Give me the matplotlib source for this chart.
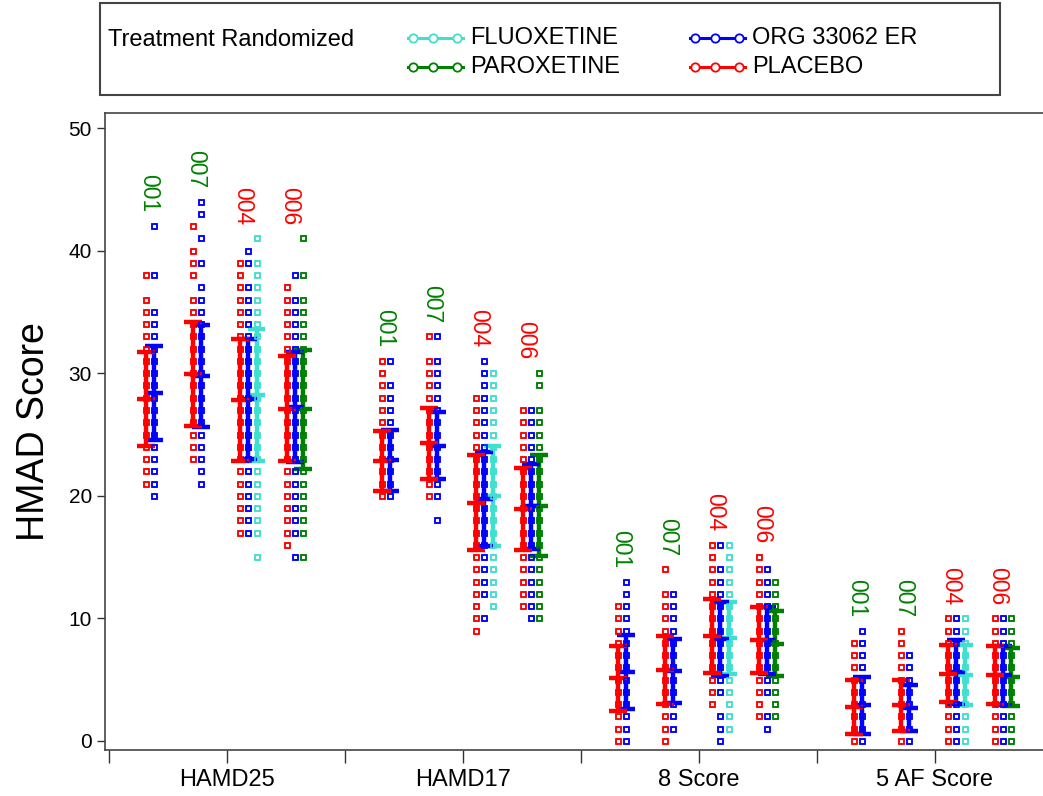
import matplotlib
matplotlib.use("Agg")
import matplotlib.pyplot as plt
from matplotlib.lines import Line2D
from matplotlib.patches import Rectangle

plt.rcParams['font.family'] = ['Liberation Sans', 'DejaVu Sans']

# ---- data ----
scores = ["HAMD25", "HAMD17", "8 Score", "5 AF Score"]
centers = ["001", "007", "004", "006"]
center_colors = {"001": "green", "007": "green", "004": "red", "006": "red"}
treatments = ["FLUOXETINE", "PAROXETINE", "ORG 33062 ER", "PLACEBO"]
colors = {"FLUOXETINE": "#40E0D0", "PAROXETINE": "#008000",
          "ORG 33062 ER": "#0000FF", "PLACEBO": "#FF0000"}

# individual scores, keyed by (centre, treatment)
hamd25_points = {
    ("001", "PLACEBO"): [21, 22, 23, 24, 25, 26, 27, 28, 29, 30, 31, 32, 33, 34, 35, 36, 38],
    ("001", "ORG 33062 ER"): [20, 21, 22, 23, 24, 25, 26, 27, 28, 29, 30, 31, 32, 33, 34, 35, 38, 42],
    ("007", "PLACEBO"): [23, 24, 25, 26, 27, 28, 29, 30, 31, 32, 33, 34, 35, 36, 38, 39, 40, 42],
    ("007", "ORG 33062 ER"): [21, 22, 23, 24, 25, 26, 27, 28, 29, 30, 31, 32, 33, 34, 35, 36, 37, 39, 41, 43, 44],
    ("004", "PLACEBO"): [17, 18, 19, 20, 21, 22, 23, 24, 25, 26, 27, 28, 29, 30, 31, 32, 33, 34, 35, 36, 37, 38, 39],
    ("004", "ORG 33062 ER"): [17, 18, 19, 20, 21, 22, 23, 24, 25, 26, 27, 28, 29, 30, 31, 32, 33, 34, 35, 36, 37, 39, 40],
    ("004", "FLUOXETINE"): [15, 17, 18, 19, 20, 21, 22, 23, 24, 25, 26, 27, 28, 29, 30, 31, 32, 33, 34, 35, 36, 37, 38, 39, 41],
    ("006", "PLACEBO"): [16, 17, 18, 19, 20, 21, 22, 23, 24, 25, 26, 27, 28, 29, 30, 31, 32, 33, 34, 35, 36, 37],
    ("006", "ORG 33062 ER"): [15, 17, 18, 19, 20, 21, 22, 23, 24, 25, 26, 27, 28, 29, 30, 31, 32, 33, 34, 35, 36, 38],
    ("006", "PAROXETINE"): [15, 17, 18, 19, 20, 21, 22, 23, 24, 25, 26, 27, 28, 29, 30, 31, 32, 33, 34, 35, 36, 38, 41],
}
hamd17_points = {
    ("001", "PLACEBO"): [20, 21, 22, 23, 24, 25, 26, 27, 28, 29, 30, 31],
    ("001", "ORG 33062 ER"): [20, 21, 22, 23, 24, 25, 26, 27, 28, 29, 31],
    ("007", "PLACEBO"): [20, 21, 22, 23, 24, 25, 26, 27, 28, 29, 30, 31, 33],
    ("007", "ORG 33062 ER"): [18, 20, 21, 22, 23, 24, 25, 26, 27, 28, 29, 30, 31, 33],
    ("004", "PLACEBO"): [9, 10, 11, 12, 13, 14, 15, 16, 17, 18, 19, 20, 21, 22, 23, 24, 25, 26, 27, 28],
    ("004", "ORG 33062 ER"): [10, 12, 13, 14, 15, 16, 17, 18, 19, 20, 21, 22, 23, 24, 25, 26, 27, 28, 29, 30, 31],
    ("004", "FLUOXETINE"): [11, 12, 13, 14, 15, 16, 17, 18, 19, 20, 21, 22, 23, 24, 25, 26, 27, 28, 29, 30],
    ("006", "PLACEBO"): [11, 12, 13, 14, 15, 16, 17, 18, 19, 20, 21, 22, 23, 24, 25, 26, 27],
    ("006", "ORG 33062 ER"): [10, 11, 12, 13, 14, 15, 16, 17, 18, 19, 20, 21, 22, 23, 24, 25, 26, 27],
    ("006", "PAROXETINE"): [10, 11, 12, 13, 14, 15, 16, 17, 18, 19, 20, 21, 22, 23, 24, 25, 26, 27, 29, 30],
}
score8_points = {
    ("001", "PLACEBO"): [0, 1, 2, 3, 4, 5, 6, 7, 8, 9, 10, 11],
    ("001", "ORG 33062 ER"): [0, 1, 2, 3, 4, 5, 6, 7, 8, 9, 10, 11, 12, 13],
    ("007", "PLACEBO"): [0, 1, 2, 3, 4, 5, 6, 7, 8, 9, 10, 11, 12, 14],
    ("007", "ORG 33062 ER"): [1, 2, 3, 4, 5, 6, 7, 8, 9, 10, 11, 12],
    ("004", "PLACEBO"): [3, 4, 5, 6, 7, 8, 9, 10, 11, 12, 13, 14, 15, 16],
    ("004", "ORG 33062 ER"): [0, 1, 2, 4, 5, 6, 7, 8, 9, 10, 11, 12, 13, 14, 16],
    ("004", "FLUOXETINE"): [1, 2, 3, 4, 5, 6, 7, 8, 9, 10, 11, 12, 13, 14, 15, 16],
    ("006", "PLACEBO"): [2, 3, 4, 5, 6, 7, 8, 9, 10, 11, 12, 13, 14, 15],
    ("006", "ORG 33062 ER"): [1, 2, 4, 5, 6, 7, 8, 9, 10, 11, 12, 13, 14],
    ("006", "PAROXETINE"): [2, 3, 4, 5, 6, 7, 8, 9, 10, 11, 12, 13],
}
score5af_points = {
    ("001", "PLACEBO"): [0, 1, 2, 3, 4, 5, 6, 7, 8],
    ("001", "ORG 33062 ER"): [0, 1, 2, 3, 4, 5, 6, 7, 8, 9],
    ("007", "PLACEBO"): [0, 1, 2, 3, 4, 5, 6, 7, 8, 9],
    ("007", "ORG 33062 ER"): [0, 1, 2, 3, 4, 5, 6, 7],
    ("004", "PLACEBO"): [0, 1, 2, 3, 4, 5, 6, 7, 8, 9, 10],
    ("004", "ORG 33062 ER"): [0, 1, 2, 3, 4, 5, 6, 7, 8, 9, 10],
    ("004", "FLUOXETINE"): [0, 1, 2, 3, 4, 5, 6, 7, 8, 9, 10],
    ("006", "PLACEBO"): [0, 1, 2, 3, 4, 5, 6, 7, 8, 9, 10],
    ("006", "ORG 33062 ER"): [0, 1, 2, 3, 4, 5, 6, 7, 8, 9, 10],
    ("006", "PAROXETINE"): [0, 1, 2, 3, 4, 5, 6, 7, 8, 9, 10],
}

# mean and SD per (centre, treatment)
hamd25_stats = {
    ("001", "PLACEBO"): (27.9, 3.85), ("001", "ORG 33062 ER"): (28.4, 3.85),
    ("007", "PLACEBO"): (29.95, 4.25), ("007", "ORG 33062 ER"): (29.75, 4.15),
    ("004", "PLACEBO"): (27.8, 5.0), ("004", "ORG 33062 ER"): (27.9, 4.9),
    ("004", "FLUOXETINE"): (28.2, 5.4),
    ("006", "PLACEBO"): (27.1, 4.3), ("006", "ORG 33062 ER"): (27.25, 4.5),
    ("006", "PAROXETINE"): (27.05, 4.85),
}
hamd17_stats = {
    ("001", "PLACEBO"): (22.85, 2.45), ("001", "ORG 33062 ER"): (22.9, 2.5),
    ("007", "PLACEBO"): (24.3, 2.9), ("007", "ORG 33062 ER"): (24.1, 2.7),
    ("004", "PLACEBO"): (19.45, 3.85), ("004", "ORG 33062 ER"): (19.75, 3.85),
    ("004", "FLUOXETINE"): (20.0, 4.1),
    ("006", "PLACEBO"): (18.95, 3.35), ("006", "ORG 33062 ER"): (19.15, 3.45),
    ("006", "PAROXETINE"): (19.2, 4.1),
}
score8_stats = {
    ("001", "PLACEBO"): (5.1, 2.65), ("001", "ORG 33062 ER"): (5.65, 3.0),
    ("007", "PLACEBO"): (5.8, 2.8), ("007", "ORG 33062 ER"): (5.7, 2.6),
    ("004", "PLACEBO"): (8.55, 3.0), ("004", "ORG 33062 ER"): (8.3, 3.0),
    ("004", "FLUOXETINE"): (8.4, 2.9),
    ("006", "PLACEBO"): (8.25, 2.7), ("006", "ORG 33062 ER"): (8.2, 2.7),
    ("006", "PAROXETINE"): (7.95, 2.65),
}
score5af_stats = {
    ("001", "PLACEBO"): (2.75, 2.2), ("001", "ORG 33062 ER"): (2.9, 2.35),
    ("007", "PLACEBO"): (2.9, 2.1), ("007", "ORG 33062 ER"): (2.7, 1.85),
    ("004", "PLACEBO"): (5.5, 2.3), ("004", "ORG 33062 ER"): (5.6, 2.6),
    ("004", "FLUOXETINE"): (5.35, 2.45),
    ("006", "PLACEBO"): (5.4, 2.35), ("006", "ORG 33062 ER"): (5.35, 2.4),
    ("006", "PAROXETINE"): (5.2, 2.35),
}

all_points = [hamd25_points, hamd17_points, score8_points, score5af_points]
all_stats = [hamd25_stats, hamd17_stats, score8_stats, score5af_stats]

W, H = 1043, 796


def fx(px):
    return px / W


def fy(py):
    return 1 - py / H


fig = plt.figure(figsize=(W / 100, H / 100), dpi=100)
ax = fig.add_axes([fx(105), fy(750), fx(1053 - 105), (750 - 113) / H])

# column offsets inside a score group (group width = 1)
first_col = 0.157
centre_step = 0.199
col_step = 0.035
col_index = {"PLACEBO": 0, "ORG 33062 ER": 1, "FLUOXETINE": 2, "PAROXETINE": 2}
draw_order = ["FLUOXETINE", "PAROXETINE", "ORG 33062 ER", "PLACEBO"]
cap = 0.038

for g, score in enumerate(scores):
    pts = all_points[g]
    stats = all_stats[g]
    for k, c in enumerate(centers):
        base = g + first_col + k * centre_step
        top = 0
        for t in draw_order:
            if (c, t) not in pts:
                continue
            x = base + col_index[t] * col_step
            vals = pts[(c, t)]
            top = max(top, max(vals))
            m, sd = stats[(c, t)]
            col = colors[t]
            ax.vlines(x, m - sd, m + sd, color=col, lw=3.2, zorder=3)
            ax.hlines([m - sd, m, m + sd], x - cap, x + cap, color=col, lw=3.2, zorder=3)
            ax.plot([x] * len(vals), vals, ls='none', marker='s', ms=3.6,
                    mfc='white', mec=col, mew=1.1, zorder=2)
            ax.plot([x] * len(vals), vals, ls='none', marker='s', ms=3.6,
                    mfc='none', mec=col, mew=1.1, zorder=4)
        ax.text(base + 0.013, top + 1.1, c, rotation=270, color=center_colors[c],
                fontsize=16.5, ha='center', va='bottom')

ax.set_xlim((105 - 109) / 236, (1053 - 109) / 236)
ax.set_ylim((741 - 750) / 12.26, (741 - 113) / 12.26)

xt = [i * 0.5 for i in range(9)]
ax.set_xticks(xt)
ax.set_xticklabels([scores[i // 2] if i % 2 == 1 else "" for i in range(9)], fontsize=17)
ax.tick_params(axis='x', direction='out', length=9, width=1, pad=5, colors='#333333',
               labelcolor='black')
ax.set_yticks([0, 10, 20, 30, 40, 50])
ax.tick_params(axis='y', direction='out', length=6, width=1, labelsize=15, colors='#333333',
               labelcolor='black')
for s in ax.spines.values():
    s.set_color('#444444')
    s.set_linewidth(1.2)
ax.set_ylabel("HMAD Score", fontsize=27, labelpad=12)

# legend box
fig.patches.append(Rectangle((fx(100), fy(95)), fx(900), 92 / H, transform=fig.transFigure,
                             fill=False, ec='#444444', lw=1.5))
fig.text(fx(108), fy(40), "Treatment Randomized", fontsize=17, va='center', ha='left')
legend_pos = {"FLUOXETINE": (408, 38), "PAROXETINE": (408, 67),
              "ORG 33062 ER": (690, 38), "PLACEBO": (690, 67)}
for t in treatments:
    lx, ly = legend_pos[t]
    fig.add_artist(Line2D([fx(lx), fx(lx + 55)], [fy(ly), fy(ly)], transform=fig.transFigure,
                          color=colors[t], lw=2.2))
    fig.add_artist(Line2D([fx(lx + 5), fx(lx + 25), fx(lx + 49)], [fy(ly)] * 3,
                          transform=fig.transFigure, ls='none', marker='o', ms=6,
                          mfc='white', mec=colors[t], mew=1.3))
    fig.text(fx(lx + 62), fy(ly), t, fontsize=17, va='center', ha='left')

fig.savefig("out.png", dpi=100)
